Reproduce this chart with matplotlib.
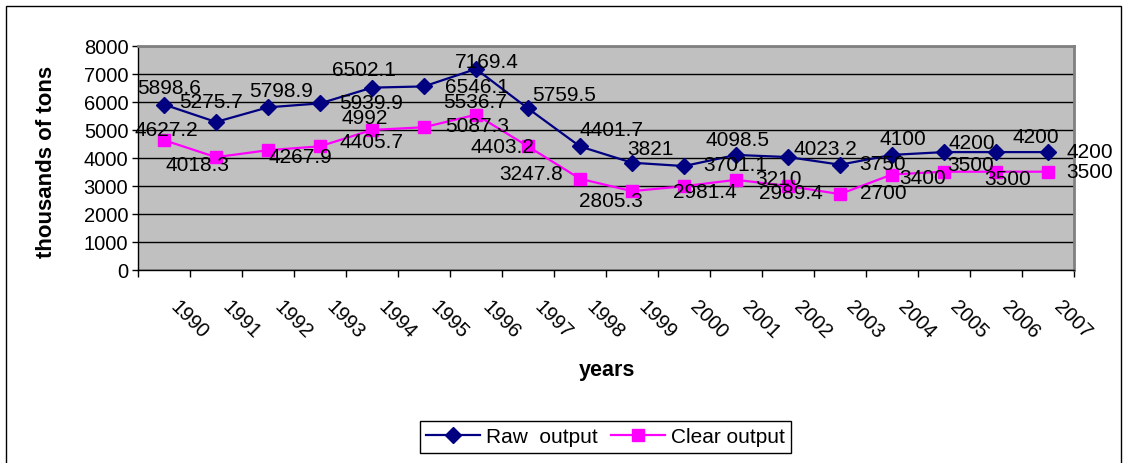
import matplotlib.pyplot as plt
import matplotlib.patches as patches
from matplotlib.transforms import ScaledTranslation

plt.rcParams['font.family'] = ['Liberation Sans', 'DejaVu Sans']

years = ['1990', '1991', '1992', '1993', '1994', '1995', '1996', '1997', '1998',
         '1999', '2000', '2001', '2002', '2003', '2004', '2005', '2006', '2007']
raw_output = [5898.6, 5275.7, 5798.9, 5939.9, 6502.1, 6546.1, 7169.4, 5759.5, 4401.7,
              3821, 3701.1, 4098.5, 4023.2, 3750, 4100, 4200, 4200, 4200]
clear_output = [4627.2, 4018.3, 4267.9, 4405.7, 4992, 5087.3, 5536.7, 4403.2, 3247.8,
                2805.3, 2981.4, 3210, 2989.4, 2700, 3400, 3500, 3500, 3500]

# where excel dropped each data label (pixels from the point, y up)
raw_off = [(5, 17), (-5, 20), (13, 17), (51, 1), (-8, 18), (53, 0), (11, 7), (36, 14), (31, 17),
           (18, 14), (51, 2), (1, 15), (37, 9), (43, 1), (11, 16), (28, 10), (40, 16), (42, 1)]
clear_off = [(2, 11), (-18, -7), (32, -6), (51, 5), (-7, 12), (53, 2), (-1, 13), (-26, 0), (-49, 5),
             (-21, -9), (21, -5), (42, 1), (3, -7), (43, 2), (31, -3), (27, 7), (12, -7), (42, 0)]

W, H = 1126, 464
fig = plt.figure(figsize=(W / 100, H / 100), dpi=100)
ax = fig.add_axes([138 / W, 1 - 270.7 / H, (1074 - 138) / W, (270.7 - 46.7) / H])

x = list(range(len(years)))
ax.set_facecolor('#C0C0C0')
ax.plot(x, raw_output, color='#000080', lw=1.6, marker='D', ms=8.5, label='Raw  output', zorder=3)
ax.plot(x, clear_output, color='#FF00FF', lw=1.6, marker='s', ms=8, label='Clear output', zorder=3)

for i in x:
    ax.annotate(f'{raw_output[i]:g}', (i, raw_output[i]), xytext=raw_off[i],
                textcoords='offset pixels', ha='center', va='center', fontsize=15, zorder=4,
                annotation_clip=False)
    ax.annotate(f'{clear_output[i]:g}', (i, clear_output[i]), xytext=clear_off[i],
                textcoords='offset pixels', ha='center', va='center', fontsize=15, zorder=4,
                annotation_clip=False)

ax.set_xlim(-0.5, len(years) - 0.5)
ax.set_ylim(0, 8000)
ax.set_yticks(range(0, 8001, 1000))
ax.tick_params(axis='y', labelsize=14.5, length=4, width=1, pad=3)
ax.yaxis.grid(True, color='black', lw=1)
ax.set_axisbelow(True)

ax.set_xticks(x)
ax.set_xticklabels(years, fontsize=14.5, rotation=-45, ha='left', va='top', rotation_mode='anchor')
ax.tick_params(axis='x', length=0, pad=19)
ax.set_xticks([i - 0.5 for i in range(len(years) + 1)], minor=True)
ax.tick_params(axis='x', which='minor', length=5, width=1)
shift = ScaledTranslation(16 / 100, 0, fig.dpi_scale_trans)
for lab in ax.get_xticklabels():
    lab.set_transform(lab.get_transform() + shift)

for s in ['left', 'bottom']:
    ax.spines[s].set_color('black')
    ax.spines[s].set_linewidth(1)
for s in ['right', 'top']:
    ax.spines[s].set_color('#808080')
    ax.spines[s].set_linewidth(2)

fig.text(47 / W, 1 - 162 / H, 'thousands of tons', rotation=90, ha='center', va='center',
         fontsize=16, fontweight='bold')
fig.text(607 / W, 1 - 371 / H, 'years', ha='center', va='center', fontsize=15.5, fontweight='bold')

leg = fig.legend(loc='center', bbox_to_anchor=(605.5 / W, 1 - 438 / H), ncol=2, fontsize=15,
                 frameon=True, fancybox=False, framealpha=1, edgecolor='black',
                 handlelength=2.6, columnspacing=0.6, handletextpad=0.3, borderpad=0.3)
leg.get_frame().set_linewidth(1)

fig.patches.append(patches.Rectangle((6 / W, -0.1), 1115 / W, 1.1 - 7 / H, transform=fig.transFigure,
                                     fill=False, edgecolor='black', lw=1))

fig.savefig('out.png', dpi=100)
